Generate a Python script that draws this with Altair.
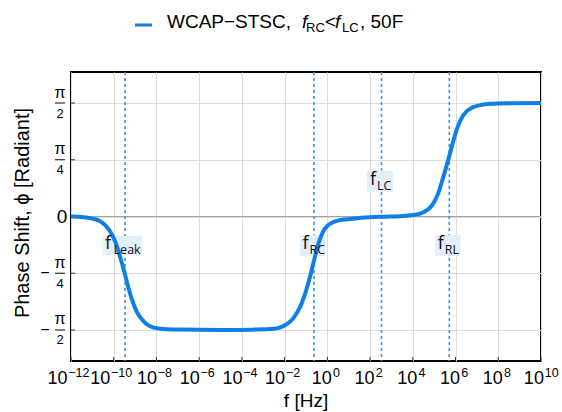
import math
import altair as alt
import pandas as pd

# ---- data ----
freq_exp = [-12, -11.5, -11.0, -10.7, -10.4, -10.1, -9.9, -9.7, -9.5, -9.3, -9.1, -8.9,
            -8.6, -8.3, -7.9, -7.0, -5.0, -3.5, -2.5, -2.2, -1.9, -1.6, -1.4, -1.2, -1.0,
            -0.8, -0.6, -0.4, -0.2, 0.0, 0.3, 0.7, 1.2, 2.0, 2.7, 3.4, 4.0, 4.5, 4.8, 5.0,
            5.2, 5.4, 5.66, 5.9, 6.1, 6.3, 6.5, 6.8, 7.2, 7.6, 8.5, 10.0]
phase = [0.0, -0.008, -0.03, -0.055, -0.12, -0.24, -0.37, -0.56, -0.77, -1.0, -1.19, -1.33,
         -1.45, -1.52, -1.55, -1.565, -1.571, -1.566, -1.555, -1.535, -1.49, -1.41, -1.32,
         -1.20, -1.03, -0.82, -0.58, -0.36, -0.21, -0.13, -0.075, -0.045, -0.03, -0.012,
         -0.003, 0.005, 0.02, 0.06, 0.12, 0.20, 0.33, 0.52, 0.785, 1.05, 1.24, 1.37, 1.45,
         1.51, 1.545, 1.56, 1.568, 1.571]

marker_names = ["Leak", "RC", "LC", "RL"]
marker_freq = [3.4e-10, 0.237, 342.0, 5.1e5]
marker_label_phase = [-0.40, -0.40, 0.49, -0.40]

x_tick_exp = list(range(-12, 11, 2))
y_tick_vals = [-math.pi / 2, -math.pi / 4, 0.0, math.pi / 4, math.pi / 2]
y_tick_num = ["π", "π", "0", "π", "π"]
y_tick_den = ["2", "4", "", "4", "2"]
y_tick_sign = ["−", "−", "", "", ""]

legend_label = ["WCAP−STSC,", "f", "RC", "<", "f", "LC", ", 50F"]
x_title = "f [Hz]"
y_title_text = "Phase Shift, ϕ [Radiant]"

# ---- styling ----
BLUE = "#0f7fe6"
DASH_BLUE = "#3b93e3"
BOX = "#e2eefa"
SANS = "Liberation Sans, Arial, sans-serif"
LBL = "Open Sans, Noto Sans, sans-serif"

curve = pd.DataFrame({"f": [10 ** e for e in freq_exp], "phi": phase})
markers = pd.DataFrame({"name": marker_names, "f": marker_freq, "ly": marker_label_phase})
yt = pd.DataFrame({"v": y_tick_vals, "num": y_tick_num, "den": y_tick_den, "sign": y_tick_sign})
xt = pd.DataFrame({"f": [10.0 ** e for e in x_tick_exp],
                   "sup": [str(e).replace("-", "−") for e in x_tick_exp]})

xscale = alt.Scale(type="log", domain=[1e-12, 1e10], nice=False)
yscale = alt.Scale(domain=[-2, 2], nice=False, zero=False)

line = alt.Chart(curve).mark_line(color=BLUE, strokeWidth=4, interpolate="monotone", clip=True).encode(
    x=alt.X("f:Q", scale=xscale,
            axis=alt.Axis(values=[10.0 ** e for e in x_tick_exp], labels=False, title=None,
                          ticks=False, domain=False, grid=True, gridColor="#dcdcdc")),
    y=alt.Y("phi:Q", scale=yscale,
            axis=alt.Axis(values=y_tick_vals, labels=False, ticks=False, domain=False,
                          grid=True, gridColor="#dcdcdc", title=None)),
)

zero = alt.Chart(pd.DataFrame({"y": [0.0]})).mark_rule(color="#a3a3a3", strokeWidth=1).encode(
    y=alt.Y("y:Q", scale=yscale))

# small inward ticks on the frame
xticks_in = alt.Chart(xt).mark_rule(color="#333", strokeWidth=1).encode(
    x=alt.X("f:Q", scale=xscale), y=alt.value(285), y2=alt.value(289))
yticks_in = alt.Chart(yt).mark_rule(color="#333", strokeWidth=1).encode(
    y=alt.Y("v:Q", scale=yscale), x=alt.value(0), x2=alt.value(4))

vlines = alt.Chart(markers).mark_rule(color=DASH_BLUE, strokeWidth=1.6, strokeDash=[3, 3]).encode(
    x=alt.X("f:Q", scale=xscale))

geom = {
    "Leak": dict(b=(-22, 17), h=9.5, fdx=-20, sdx=-11.5),
    "RC": dict(b=(-14, 11), h=10.5, fdx=-11.5, sdx=-4.5),
    "LC": dict(b=(-14.5, 11.5), h=10.5, fdx=-11.5, sdx=-4.5),
    "RL": dict(b=(-14, 11), h=10.5, fdx=-11.5, sdx=-4.5),
}
boxes, texts = [], []
for name in marker_names:
    g = geom[name]
    d = markers[markers["name"] == name]
    boxes.append(alt.Chart(d).mark_rect(color=BOX, xOffset=g["b"][0], x2Offset=g["b"][1],
                                        yOffset=-g["h"], y2Offset=g["h"]).encode(
        x=alt.X("f:Q", scale=xscale), x2="f:Q",
        y=alt.Y("ly:Q", scale=yscale), y2="ly:Q"))
    texts.append(alt.Chart(d).mark_text(font=LBL, fontSize=18, align="left", baseline="alphabetic",
                                        dx=g["fdx"], dy=3.5, color="#111").encode(
        x=alt.X("f:Q", scale=xscale), y=alt.Y("ly:Q", scale=yscale), text=alt.value("f")))
    texts.append(alt.Chart(d).mark_text(font=LBL, fontSize=12.5, align="left", baseline="alphabetic",
                                        dx=g["sdx"], dy=8.5, color="#111").encode(
        x=alt.X("f:Q", scale=xscale), y=alt.Y("ly:Q", scale=yscale), text="name:N"))

# x tick labels: "10" plus exponent, shifted per exponent width so the pair is centred
def grp(s):
    if s.startswith("−"):
        return "neg2" if len(s) == 3 else "neg1"
    return "pos2" if len(s) == 2 else "pos1"

xt["g"] = [grp(s) for s in xt["sup"]]
shifts = {"pos1": (4.4, 5.7), "neg1": (0.5, 1.3), "pos2": (2.9, 3.7), "neg2": (-3.5, -2.7)}
xlabels = []
for gname, (d10, dexp) in shifts.items():
    d = xt[xt["g"] == gname]
    if d.empty:
        continue
    xlabels.append(alt.Chart(d).mark_text(font=SANS, fontSize=18, align="right",
                                          baseline="alphabetic", dx=d10).encode(
        x=alt.X("f:Q", scale=xscale), y=alt.value(312), text=alt.value("10")))
    xlabels.append(alt.Chart(d).mark_text(font=SANS, fontSize=12.5, align="left",
                                          baseline="alphabetic", dx=dexp).encode(
        x=alt.X("f:Q", scale=xscale), y=alt.value(304.5), text="sup:N"))

one = pd.DataFrame({"a": [0]})
x_title_mark = alt.Chart(one).mark_text(font=SANS, fontSize=19, align="center",
                                        baseline="alphabetic").encode(
    x=alt.value(235), y=alt.value(335), text=alt.value(x_title))

# custom y tick labels (fractions)
ybase = alt.Chart(yt)
y_num = ybase.transform_filter("datum.den != ''").mark_text(
    font=SANS, fontSize=16, align="center", baseline="alphabetic", dy=-5.5).encode(
    x=alt.value(-11), y=alt.Y("v:Q", scale=yscale), text="num:N")
y_den = ybase.transform_filter("datum.den != ''").mark_text(
    font=SANS, fontSize=13, align="center", baseline="alphabetic", dy=14.5).encode(
    x=alt.value(-11), y=alt.Y("v:Q", scale=yscale), text="den:N")
y_bar = ybase.transform_filter("datum.den != ''").mark_rule(color="black", strokeWidth=1).encode(
    x=alt.value(-16), x2=alt.value(-6), y=alt.Y("v:Q", scale=yscale))
y_sign = ybase.transform_filter("datum.sign != ''").mark_text(
    font=SANS, fontSize=16, align="center", baseline="middle").encode(
    x=alt.value(-26), y=alt.Y("v:Q", scale=yscale), text="sign:N")
y_zero = ybase.transform_filter("datum.den == ''").mark_text(
    font=SANS, fontSize=19, align="center", baseline="middle").encode(
    x=alt.value(-9), y=alt.Y("v:Q", scale=yscale), text="num:N")

y_title = alt.Chart(one).mark_text(font=SANS, fontSize=20, angle=270, align="center",
                                   baseline="middle").encode(
    x=alt.value(-48), y=alt.value(141), text=alt.value(y_title_text))

# legend
leg_line = alt.Chart(one).mark_rule(color=BLUE, strokeWidth=3).encode(
    x=alt.value(64), x2=alt.value(81), y=alt.value(-47))
leg_specs = [
    (legend_label[0], 96, -44, 19, "normal"),
    (legend_label[1], 231, -44, 19, "italic"),
    (legend_label[2], 235, -40, 13, "normal"),
    (legend_label[3], 254, -44, 19, "normal"),
    (legend_label[4], 264, -44, 19, "italic"),
    (legend_label[5], 271, -40, 13, "normal"),
    (legend_label[6], 289, -44, 19, "normal"),
]
leg_texts = [alt.Chart(one).mark_text(font=SANS, fontSize=fs, fontStyle=st, align="left",
                                      baseline="alphabetic").encode(
    x=alt.value(xp), y=alt.value(yp), text=alt.value(t)) for t, xp, yp, fs, st in leg_specs]

chart = alt.layer(
    zero, xticks_in, yticks_in, vlines, *boxes, line, *texts, *xlabels, x_title_mark,
    y_num, y_den, y_bar, y_sign, y_zero, y_title, leg_line, *leg_texts
).properties(
    width=470, height=289,
    autosize=alt.AutoSizeParams(type="none"),
    padding={"left": 71, "top": 72, "right": 21, "bottom": 51},
    background="white",
).configure_view(stroke="black", strokeWidth=2)

chart.save("out.html", embed_options={"renderer": "svg", "actions": False})
